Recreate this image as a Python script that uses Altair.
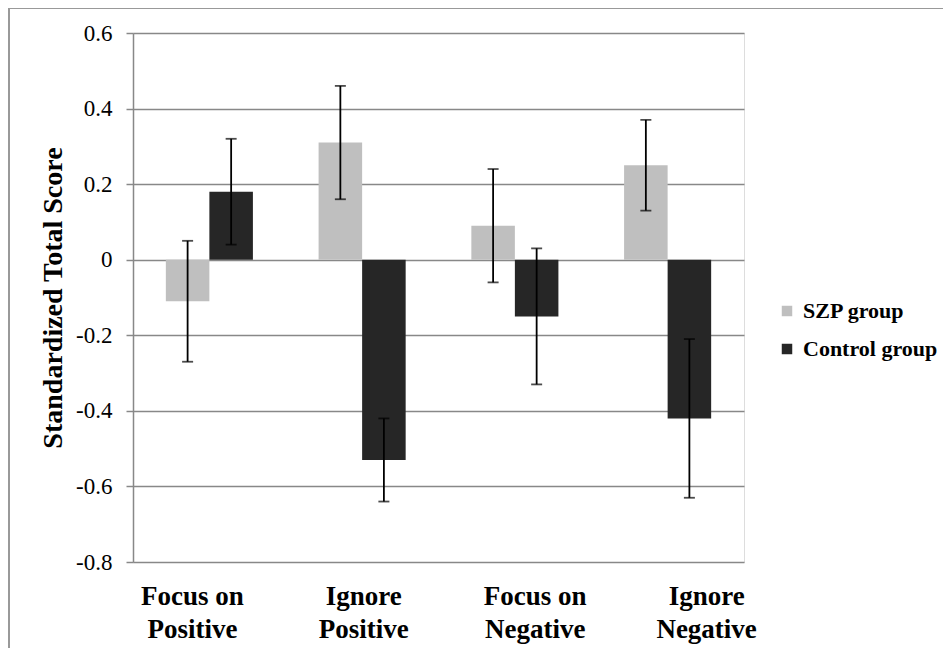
import altair as alt
import pandas as pd

categories = ["Focus on Positive", "Ignore Positive", "Focus on Negative", "Ignore Negative"]
groups = ["SZP group", "Control group"]
szp_values = [-0.11, 0.31, 0.09, 0.25]
szp_errors = [0.16, 0.15, 0.15, 0.12]
control_values = [0.18, -0.53, -0.15, -0.42]
control_errors = [0.14, 0.11, 0.18, 0.21]
colors = ["#bfbfbf", "#262626"]

rows = []
for i, c in enumerate(categories):
    rows.append({"category": c, "group": groups[0], "value": szp_values[i],
                 "lo": szp_values[i] - szp_errors[i], "hi": szp_values[i] + szp_errors[i]})
    rows.append({"category": c, "group": groups[1], "value": control_values[i],
                 "lo": control_values[i] - control_errors[i], "hi": control_values[i] + control_errors[i]})
df = pd.DataFrame(rows)

SERIF = "Liberation Serif"

x_enc = alt.X("category:N", sort=categories, title=None,
              scale=alt.Scale(paddingInner=0.43, paddingOuter=0.215),
              axis=alt.Axis(
                  labelExpr="[slice(datum.label, 0, lastindexof(datum.label, ' ')), slice(datum.label, lastindexof(datum.label, ' ') + 1)]",
                  labelFont=SERIF, labelFontSize=27, labelFontWeight="bold", labelColor="#000",
                  labelLineHeight=33, labelPadding=21, labelAngle=0,
                  labelOffset=alt.ExprRef("-17 + 56 * datum.index"),
                  ticks=False, domain=False, grid=False))
xoff = alt.XOffset("group:N", sort=groups, scale=alt.Scale(paddingInner=0, paddingOuter=0))

y_scale = alt.Scale(domain=[-0.8, 0.6], nice=False, zero=False)

bars = alt.Chart(df).mark_bar().encode(
    x=x_enc,
    xOffset=xoff,
    y=alt.Y("value:Q", scale=y_scale, title="Standardized Total Score",
            axis=alt.Axis(values=[-0.8, -0.6, -0.4, -0.2, 0, 0.2, 0.4, 0.6],
                          labelExpr="datum.value == 0 ? '0' : replace(format(datum.value, '.1f'), '\u2212', '-')",
                          labelFont=SERIF, labelFontSize=23, labelColor="#000", labelPadding=14,
                          tickColor="#888", tickSize=7, tickWidth=1.5,
                          domainColor="#888", domainWidth=1.5,
                          gridColor="#888", gridWidth=1.5,
                          titleFont=SERIF, titleFontSize=28, titleFontWeight="bold", titleColor="#000",
                          titlePadding=8)),
    color=alt.Color("group:N", sort=groups,
                    scale=alt.Scale(domain=groups, range=colors),
                    legend=alt.Legend(title=None, orient="none", legendX=643, legendY=267,
                                      symbolType="square", symbolSize=110, symbolStrokeWidth=0,
                                      labelFont=SERIF, labelFontSize=22, labelFontWeight="bold",
                                      labelColor="#000", labelOffset=5, rowPadding=16, padding=0)),
)

rules = alt.Chart(df).mark_rule(color="#000", strokeWidth=1.8).encode(
    x=alt.X("category:N", sort=categories),
    xOffset=xoff,
    y=alt.Y("lo:Q", scale=y_scale),
    y2="hi:Q",
)
caps_lo = alt.Chart(df).mark_tick(color="#000", size=11, thickness=1.8, orient="horizontal").encode(
    x=alt.X("category:N", sort=categories),
    xOffset=xoff,
    y=alt.Y("lo:Q", scale=y_scale),
)
caps_hi = alt.Chart(df).mark_tick(color="#000", size=11, thickness=1.8, orient="horizontal").encode(
    x=alt.X("category:N", sort=categories),
    xOffset=xoff,
    y=alt.Y("hi:Q", scale=y_scale),
)

border_left = alt.Chart(df).mark_rule(color="#999", strokeWidth=2).encode(
    x=alt.value(-124), y=alt.value(-26), y2=alt.value(640))
border_top = alt.Chart(df).mark_rule(color="#999", strokeWidth=2).encode(
    x=alt.value(-124), x2=alt.value(820), y=alt.value(-25))

chart = alt.layer(bars, rules, caps_lo, caps_hi, border_left, border_top).properties(
    width=611, height=529,
    autosize=alt.AutoSizeParams(type="none"),
    padding={"left": 125, "top": 25, "right": 199, "bottom": 86},
).configure_view(stroke=None).configure(background="white")

chart.save("out.html", embed_options={"renderer": "svg", "actions": False})
